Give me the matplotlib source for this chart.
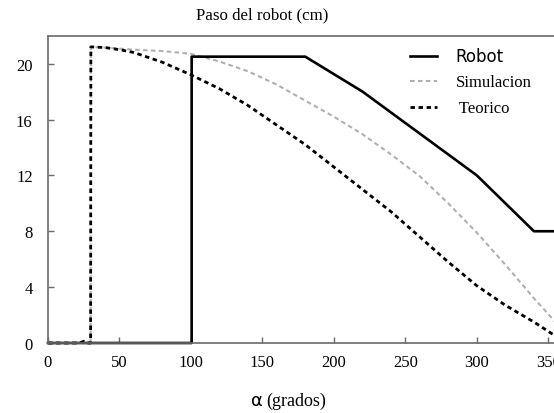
import matplotlib.pyplot as plt

# Paso del robot vs angulo alfa
robot_x = [0, 100.5, 100.5, 180, 220, 300, 340, 355]
robot_y = [0, 0, 20.5, 20.5, 18.0, 12.0, 8.0, 8.0]

sim_x = [29.8, 30, 40, 60, 80, 100, 120, 140, 160, 180, 200, 220, 240, 260, 280, 300, 320, 340, 355]
sim_y = [0, 21.2, 21.15, 21.0, 20.9, 20.7, 20.15, 19.45, 18.5, 17.35, 16.2, 14.95, 13.5, 11.95, 10.0, 7.9, 5.6, 3.2, 1.5]

teo_x = [0, 22, 25, 27, 29.8, 30, 40, 50, 60, 80, 100, 120, 140, 160, 180, 200, 220, 240, 260, 280, 300, 320, 340, 355]
teo_y = [0, 0, 0.12, 0, 0, 21.2, 21.15, 21.0, 20.8, 20.1, 19.2, 18.2, 17.0, 15.6, 14.2, 12.6, 11.0, 9.4, 7.6, 5.8, 4.1, 2.7, 1.5, 0.5]

x_ticks = [0, 50, 100, 150, 200, 250, 300, 350]
y_ticks = [0, 4, 8, 12, 16, 20]

serif = 'Liberation Serif'
spine_color = '#6a6a6a'

fig = plt.figure(figsize=(5.54, 4.14), dpi=100)
ax = fig.add_axes([48 / 554, 1 - 344 / 414, 1 - 48 / 554, (344 - 36.7) / 414])

ax.plot(sim_x, sim_y, color='#b0b0b0', lw=1.5, dashes=(2.2, 1.6), label='Simulacion', clip_on=False)
ax.plot(teo_x, teo_y, color='black', lw=2.0, dashes=(1.6, 1.3), label=' Teorico', clip_on=False)
ax.plot(robot_x, robot_y, color='black', lw=1.9, label='Robot', clip_on=False)

ax.set_xlim(0, 354)
ax.set_ylim(0, 22)
ax.set_xticks(x_ticks)
ax.set_yticks(y_ticks)

# Ejes: izquierda, abajo y arriba en gris
ax.spines['right'].set_visible(False)
for side in ['left', 'bottom', 'top']:
    ax.spines[side].set_color(spine_color)
    ax.spines[side].set_linewidth(1.2)
ax.tick_params(axis='both', direction='in', length=4, width=1, color=spine_color,
               top=False, right=False, labelsize=12)
ax.tick_params(axis='y', pad=11)
ax.tick_params(axis='x', pad=8)
for lbl in ax.get_xticklabels() + ax.get_yticklabels():
    lbl.set_fontfamily(serif)

# Leyenda sin marco, arriba a la derecha
handles, labels = ax.get_legend_handles_labels()
order = [2, 0, 1]
leg = ax.legend([handles[i] for i in order], [labels[i] for i in order],
                loc='upper left', bbox_to_anchor=(0.69, 1.005), frameon=False,
                handlelength=2.0, handletextpad=1.3, labelspacing=0.68)
texts = leg.get_texts()
texts[0].set_fontfamily('DejaVu Sans')
texts[0].set_fontsize(12)
texts[1].set_fontfamily(serif)
texts[1].set_fontsize(12)
texts[2].set_fontfamily(serif)
texts[2].set_fontsize(12)

# Titulo y etiqueta del eje x
fig.text(262 / 554, 1 - 15 / 414, 'Paso del robot (cm)', family=serif, fontsize=12.2,
         ha='center', va='center')
fig.text(263 / 554, 1 - 401 / 414, 'α', family='DejaVu Sans', fontsize=13,
         ha='right', va='center')
fig.text(266 / 554, 1 - 401 / 414, '(grados)', family=serif, fontsize=13,
         ha='left', va='center')

fig.savefig('out.png', dpi=100)
